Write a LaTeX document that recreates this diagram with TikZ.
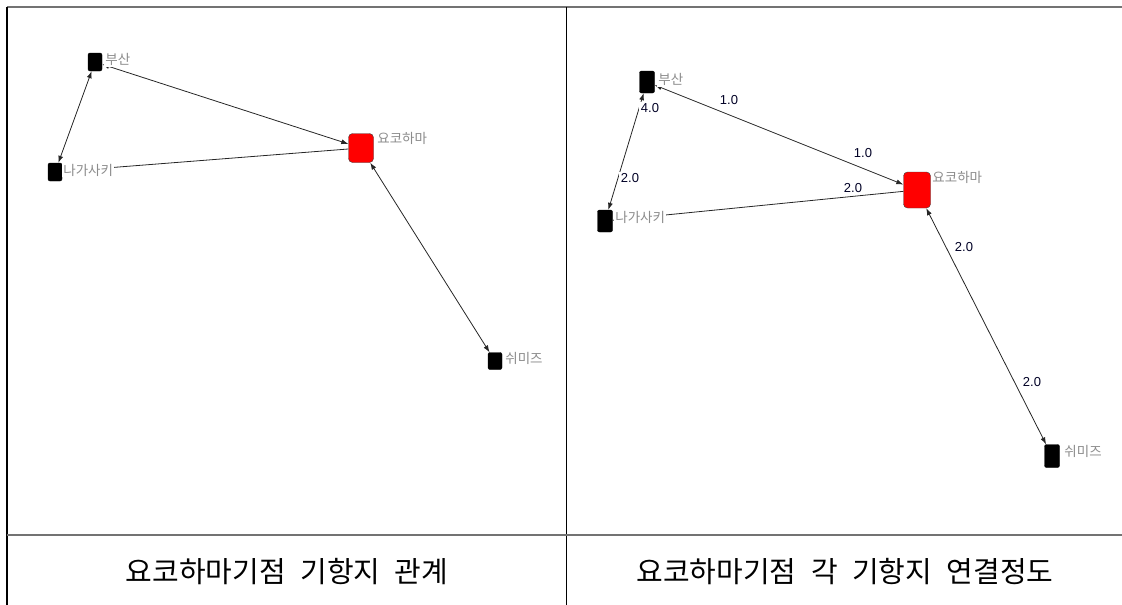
\documentclass[tikz,border=0pt]{standalone}
\usepackage{fontspec}
\setmainfont{Noto Sans CJK KR}
\newfontfamily\numfont{Liberation Sans}
\usetikzlibrary{arrows.meta,positioning}
\newcommand{\capfont}{\fontsize{29}{32}\selectfont\spaceskip 0.5em\relax}

\begin{document}
\begin{tikzpicture}[
  x=1pt, y=-1pt,
  port/.style={
    draw=black,
    fill=black,
    rounded corners=2pt,
    minimum width=14pt,
    minimum height=18pt,
    inner sep=0pt,
  },
  porttall/.style={port, minimum width=15pt, minimum height=22pt},
  hub/.style={
    draw=black!75,
    fill=red,
    rounded corners=4pt,
    minimum width=25pt,
    minimum height=29pt,
    inner sep=0pt,
  },
  hubtall/.style={hub, minimum width=27pt, minimum height=36pt},
  portlabel/.style={font=\fontsize{13.5}{14}\selectfont, text=black!45, fill=white, inner sep=1pt},
  linkline/.style={draw=black!85, line width=0.8pt},
  twoway/.style={linkline, {Latex[length=7pt,width=5pt]}-{Latex[length=7pt,width=5pt]}},
  wlabel/.style={font=\numfont\fontsize{13}{14}\selectfont, text=black!85!blue, fill=white, inner sep=1.5pt},
  rule/.style={line width=1.3pt},
  caption/.style={font=\capfont},
]
\useasboundingbox (0,0) rectangle (1122,605);

% table lines
\draw[rule, black!55] (7,7) -- (1122,7);
\draw[rule] (7,7) -- (7,605);
\draw[rule, line width=1pt] (566,7) -- (566,605);
\draw[rule, black!55, line width=2pt] (7,535) -- (1122,535);

% left graph
\node[port] (lbusan) at (95,62) {};
\node[port] (lnagasaki) at (55,172) {};
\node[hub] (lyoko) at (361,148) {};
\node[port, minimum height=17pt] (lshimizu) at (495,361) {};

\draw[twoway] (lbusan) -- (lnagasaki);
\draw[twoway] (lbusan) -- (lyoko);
\draw[linkline] (lnagasaki) -- (lyoko);
\draw[twoway] (lyoko) -- (lshimizu);

\node[portlabel, right=2pt of lbusan, yshift=2.5pt] (lbusanname) {부산};
\node[portlabel, right=0pt of lnagasaki, yshift=2pt] (lnagasakiname) {나가사키};
\node[portlabel, right=2.5pt of lyoko, yshift=9.5pt] (lyokoname) {요코하마};
\node[portlabel, right=2pt of lshimizu, yshift=2.5pt] (lshimizuname) {쉬미즈};

% right graph
\node[porttall] (rbusan) at (647,82) {};
\node[porttall] (rnagasaki) at (605,221) {};
\node[hubtall] (ryoko) at (917,190) {};
\node[porttall, minimum height=23pt] (rshimizu) at (1052,456) {};

\draw[twoway] (rbusan) -- (rnagasaki);
\draw[twoway] (rbusan) -- (ryoko);
\draw[linkline] (rnagasaki) -- (ryoko);
\draw[twoway] (ryoko) -- (rshimizu);

\node[portlabel, right=2.5pt of rbusan, yshift=2.5pt] (rbusanname) {부산};
\node[portlabel, right=1.5pt of rnagasaki, yshift=3.5pt] (rnagasakiname) {나가사키};
\node[portlabel, right=0.5pt of ryoko, yshift=12.5pt] (ryokoname) {요코하마};
\node[portlabel, right=3.5pt of rshimizu, yshift=5pt] (rshimizuname) {쉬미즈};

% weights
\node[wlabel] (wbusanyoko) at (729,100) {1.0};
\node[wlabel] (wyokobusan) at (863,153) {1.0};
\node[wlabel] (wbusannaga) at (650,108) {4.0};
\node[wlabel] (wnagabusan) at (630,178) {2.0};
\node[wlabel] (wnagayoko) at (853,188) {2.0};
\node[wlabel] (wyokoshim) at (964,247) {2.0};
\node[wlabel] (wshimyoko) at (1032,382) {2.0};

% captions
\node[caption] (lcaption) at (287,572) {요코하마기점 기항지 관계};
\node[caption] (rcaption) at (845,572) {요코하마기점 각 기항지 연결정도};

\end{tikzpicture}
\end{document}
